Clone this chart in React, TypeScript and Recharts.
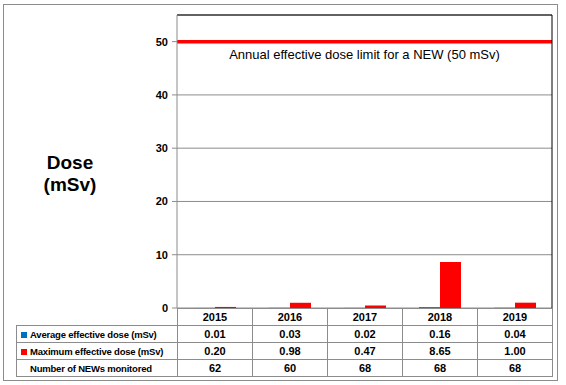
import React from 'react';
import { BarChart, Bar, XAxis, YAxis, CartesianGrid, ReferenceLine } from 'recharts';

const years = ['2015', '2016', '2017', '2018', '2019'];
const avgDose = [0.01, 0.03, 0.02, 0.16, 0.04];
const maxDose = [0.2, 0.98, 0.47, 8.65, 1.0];
const newsMonitored = [62, 60, 68, 68, 68];
const yTicks = [0, 10, 20, 30, 40, 50];
const doseLimit = 50;

const data = years.map((year, i) => ({ year, avg: avgDose[i], max: maxDose[i] }));

const FONT = '"Liberation Sans", Arial, sans-serif';
const GRID = '#8c8c8c';

const cell: React.CSSProperties = {
  border: `1px solid ${GRID}`,
  padding: 0,
  textAlign: 'center',
  height: 16,
};

const rows = [
  { label: 'Average effective dose (mSv)', key: '#0070C0', values: avgDose.map(v => v.toFixed(2)) },
  { label: 'Maximum effective dose (mSv)', key: '#FF0000', values: maxDose.map(v => v.toFixed(2)) },
  { label: 'Number of NEWs monitored', key: null, values: newsMonitored.map(String) },
];

const App: React.FC = () => {
  return (
    <div style={{ position: 'absolute', left: 0, top: 0, width: 566, height: 385, background: '#fff', fontFamily: FONT }}>
      {/* outer frame */}
      <div style={{ position: 'absolute', left: 3, top: 4, width: 553, height: 375, border: `1px solid ${GRID}` }} />

      <div style={{ position: 'absolute', left: 0, top: 0 }}>
        <BarChart width={566} height={385} data={data} margin={{ top: 15, right: 13, bottom: 77, left: 0 }} barGap={0} barSize={21}>
          <CartesianGrid vertical={false} stroke={GRID} />
          <XAxis dataKey="year" hide />
          <YAxis
            width={177}
            domain={[0, 55]}
            ticks={yTicks}
            interval={0}
            tickSize={5}
            tickMargin={4}
            tickLine={{ stroke: GRID }}
            axisLine={{ stroke: GRID }}
            tick={{ fontSize: 11, fontWeight: 700, fill: '#000', fontFamily: FONT }}
          />
          <YAxis yAxisId="r" orientation="right" width={1} domain={[0, 55]} tick={false} tickLine={false} axisLine={{ stroke: '#000' }} />
          <ReferenceLine y={55} stroke="#000" />
          <Bar dataKey="avg" fill="#0070C0" isAnimationActive={false} />
          <Bar dataKey="max" fill="#FF0000" isAnimationActive={false} />
          <ReferenceLine
            y={doseLimit}
            stroke="#FF0000"
            strokeWidth={3.5}
            label={{ value: 'Annual effective dose limit for a NEW (50 mSv)', position: 'bottom', offset: 8, fill: '#000', fontSize: 13, fontFamily: FONT }}
          />
        </BarChart>
      </div>

      <div style={{ position: 'absolute', left: 0, top: 152, width: 140, textAlign: 'center', fontSize: 19, lineHeight: '22px', fontWeight: 700 }}>
        Dose<br />(mSv)
      </div>

      <table
        style={{
          position: 'absolute',
          left: 16,
          top: 308,
          borderCollapse: 'collapse',
          tableLayout: 'fixed',
          width: 537,
          fontFamily: FONT,
          fontSize: 11,
          fontWeight: 700,
          color: '#000',
        }}
      >
        <colgroup>
          <col style={{ width: 161 }} />
          {years.map(y => (
            <col key={y} style={{ width: 75 }} />
          ))}
        </colgroup>
        <tbody>
          <tr>
            <td style={{ ...cell, border: 'none' }} />
            {years.map(y => (
              <td key={y} style={cell}>{y}</td>
            ))}
          </tr>
          {rows.map(r => (
            <tr key={r.label}>
              <td style={{ ...cell, textAlign: 'left', paddingLeft: 4, whiteSpace: 'nowrap', fontSize: 9.5, letterSpacing: -0.2 }}>
                <span style={{ display: 'inline-block', width: 6, height: 6, marginRight: 3, background: r.key || 'transparent' }} />
                {r.label}
              </td>
              {r.values.map((v, i) => (
                <td key={i} style={cell}>{v}</td>
              ))}
            </tr>
          ))}
        </tbody>
      </table>
    </div>
  );
};

export default App;
